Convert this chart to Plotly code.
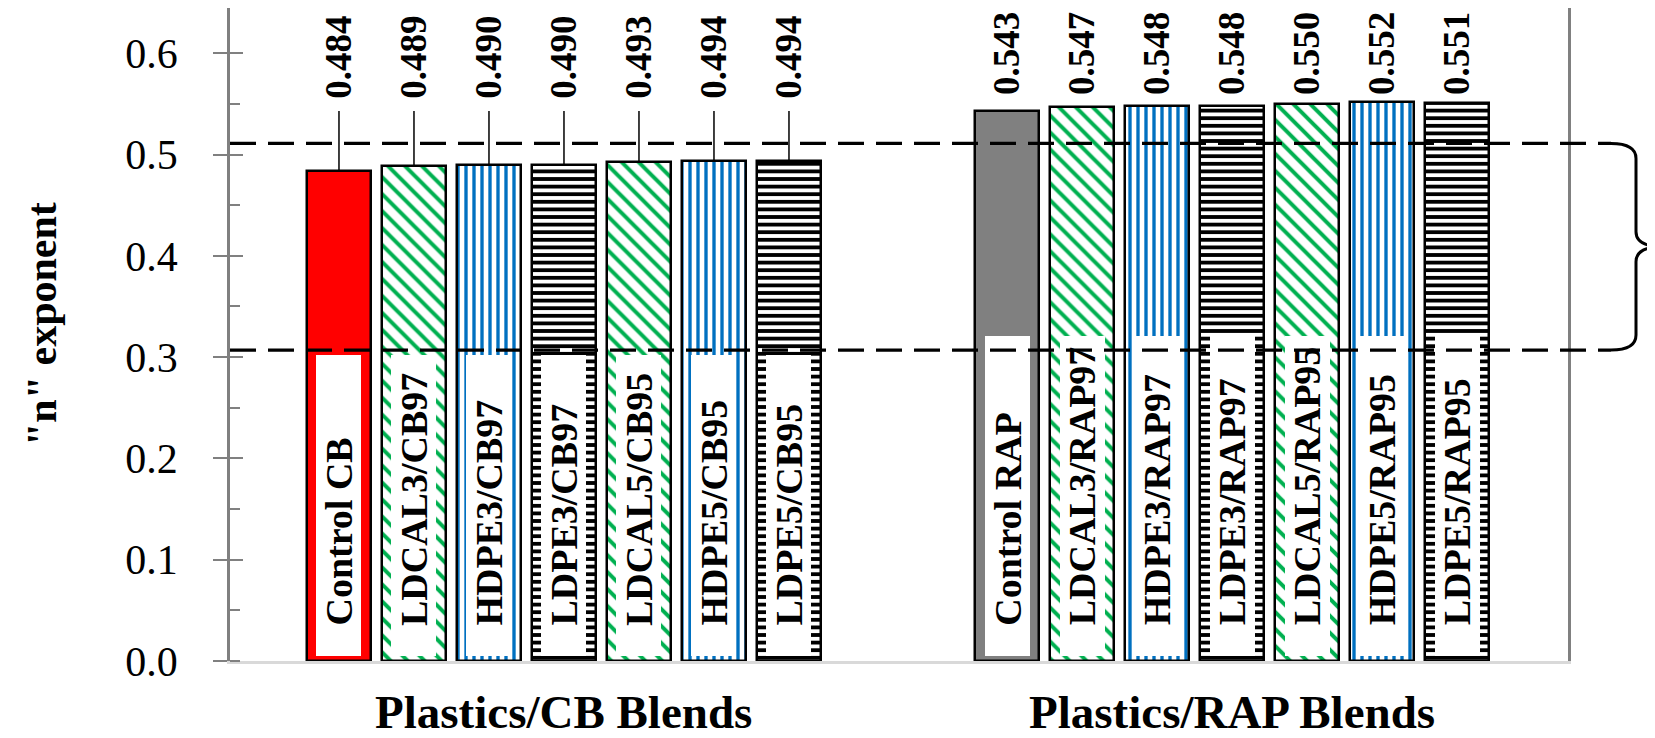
import plotly.graph_objects as go

# ---------------- data ----------------
cb_labels = ["Control CB", "LDCAL3/CB97", "HDPE3/CB97", "LDPE3/CB97",
             "LDCAL5/CB95", "HDPE5/CB95", "LDPE5/CB95"]
cb_values = [0.484, 0.489, 0.490, 0.490, 0.493, 0.494, 0.494]
rap_labels = ["Control RAP", "LDCAL3/RAP97", "HDPE3/RAP97", "LDPE3/RAP97",
              "LDCAL5/RAP95", "HDPE5/RAP95", "LDPE5/RAP95"]
rap_values = [0.543, 0.547, 0.548, 0.548, 0.550, 0.552, 0.551]
group_names = ["Plastics/CB Blends", "Plastics/RAP Blends"]
band_limits = [0.307, 0.511]          # dashed reference band
y_ticks = [0.0, 0.1, 0.2, 0.3, 0.4, 0.5, 0.6]

# ---------------- styling ----------------
FONT = "Liberation Serif"
GREEN, BLUE, RED, GRAY = "#00b050", "#0070c0", "#ff0000", "#808080"
# style per position inside a group: (color, pattern shape, size, solidity)
cb_styles = [(RED, "", 8, 0.3), (GREEN, "\\", 12, 0.33), (BLUE, "|", 8, 0.42),
             ("black", "-", 7.6, 0.5), (GREEN, "\\", 12, 0.33),
             (BLUE, "|", 8, 0.42), ("black", "-", 7.6, 0.5)]
rap_styles = [(GRAY, "", 8, 0.3)] + cb_styles[1:]

GROUP_OFFSET = 8.91
X_RANGE = [-1.453, 16.387]
Y_MAX = 0.6447
BAR_W = 0.85
BOX_W = 0.60
BOX_BOTTOM = 0.005
BOX_TOP = [0.302, 0.321]
LABEL_Y = [0.5545, 0.5575]
LEADER_TOP = 0.543
INNER_LABEL_Y = 0.033

W, H = 1655, 738
ML, MR, MT, MB = 222, 95, 0, 85
PW, PH = W - ML - MR, H - MT - MB


def px_x(px):
    return (px - ML) / PW


def px_y(py):
    return 1 - (py - MT) / PH


fig = go.Figure()

groups = [(cb_labels, cb_values, cb_styles, 0.0),
          (rap_labels, rap_values, rap_styles, GROUP_OFFSET)]

annotations = []
for gi, (labels, values, styles, off) in enumerate(groups):
    xs = [off + i for i in range(len(values))]
    fig.add_trace(go.Bar(
        x=xs, y=values, width=BAR_W,
        marker=dict(
            color=[s[0] for s in styles],
            line=dict(color="black", width=2.5),
            pattern=dict(
                shape=[s[1] for s in styles],
                bgcolor="white",
                size=[s[2] for s in styles],
                solidity=[s[3] for s in styles],
                fillmode="replace",
            ),
        ),
        showlegend=False, hoverinfo="skip",
    ))
    # white label boxes inside bars
    fig.add_trace(go.Bar(
        x=xs, y=[BOX_TOP[gi] - BOX_BOTTOM] * len(xs), base=BOX_BOTTOM, width=BOX_W,
        marker=dict(color="white", line=dict(width=0)),
        showlegend=False, hoverinfo="skip",
    ))
    # leader lines (CB group only)
    if gi == 0:
        lx, ly = [], []
        for x, v in zip(xs, values):
            lx += [x, x, None]
            ly += [v, LEADER_TOP, None]
        fig.add_trace(go.Scatter(x=lx, y=ly, mode="lines",
                                 line=dict(color="black", width=1.5),
                                 showlegend=False, hoverinfo="skip"))
    for x, v, lab in zip(xs, values, labels):
        annotations.append(dict(
            x=x, y=LABEL_Y[gi], xref="x", yref="y", text=f"<b>{v:.3f}</b>",
            textangle=-90, showarrow=False, xanchor="center", yanchor="bottom",
            borderpad=0,
            font=dict(family=FONT, size=37, color="black")))
        annotations.append(dict(
            x=x, y=INNER_LABEL_Y, xref="x", yref="y", text=f"<b>{lab}</b>",
            textangle=-90, showarrow=False, xanchor="center", yanchor="bottom",
            font=dict(family=FONT, size=38, color="black")))
    annotations.append(dict(
        x=(xs[0] + xs[-1]) / 2, y=px_y(704), xref="x", yref="paper",
        text=f"<b>{group_names[gi]}</b>", showarrow=False,
        xanchor="center", yanchor="middle",
        font=dict(family=FONT, size=47, color="black")))

annotations.append(dict(
    x=px_x(34), y=px_y(316), xref="paper", yref="paper",
    text='<b>"n" exponent</b>', textangle=-90, showarrow=False,
    xanchor="center", yanchor="middle",
    font=dict(family=FONT, size=42, color="black")))

# dashed band lines and brace
shapes = []
x_end = px_x(1603)
for v in band_limits:
    shapes.append(dict(type="line", xref="paper", yref="paper",
                       x0=0, x1=x_end, y0=v / Y_MAX, y1=v / Y_MAX,
                       line=dict(color="black", width=3.3, dash="26px,12px"),
                       layer="above"))
yt, yb = band_limits[1] / Y_MAX, band_limits[0] / Y_MAX
ym = (yt + yb) / 2
xa, xb, xc = px_x(1603), px_x(1628), px_x(1655)
r = 15 / PH
path = (f"M {xa},{yt} Q {xb},{yt} {xb},{yt - r} L {xb},{ym + r} "
        f"Q {xb},{ym} {xc},{ym} Q {xb},{ym} {xb},{ym - r} "
        f"L {xb},{yb + r} Q {xb},{yb} {xa},{yb}")
shapes.append(dict(type="path", xref="paper", yref="paper", path=path,
                   line=dict(color="black", width=3), layer="above"))

fig.update_layout(
    width=W, height=H,
    margin=dict(l=ML, r=MR, t=MT, b=MB, pad=0),
    paper_bgcolor="white", plot_bgcolor="white",
    barmode="overlay", bargap=0,
    annotations=annotations, shapes=shapes,
    xaxis=dict(range=X_RANGE, showticklabels=False, ticks="", showgrid=False,
               zeroline=False, showline=True, linecolor="#d9d9d9", linewidth=3),
    yaxis=dict(range=[0, Y_MAX], tickvals=y_ticks,
               ticktext=[f"{t:.1f}" for t in y_ticks],
               ticks="outside", ticklen=14, tickwidth=2, tickcolor=GRAY,
               ticklabelstandoff=27,
               minor=dict(dtick=0.05, ticks="inside", ticklen=10, tickwidth=2, tickcolor=GRAY),
               showgrid=False, zeroline=False, showline=True, linecolor=GRAY,
               linewidth=2.5, mirror=True,
               tickfont=dict(family=FONT, size=42, color="black")),
    yaxis2=dict(range=[0, Y_MAX], overlaying="y", side="left", tickvals=y_ticks,
                ticks="inside", ticklen=13, tickwidth=2, tickcolor=GRAY,
                showticklabels=False, showgrid=False, zeroline=False, showline=False),
)
# dummy trace to activate yaxis2
fig.add_trace(go.Scatter(x=[None], y=[None], yaxis="y2", showlegend=False, hoverinfo="skip"))

fig.write_html("out.html")
